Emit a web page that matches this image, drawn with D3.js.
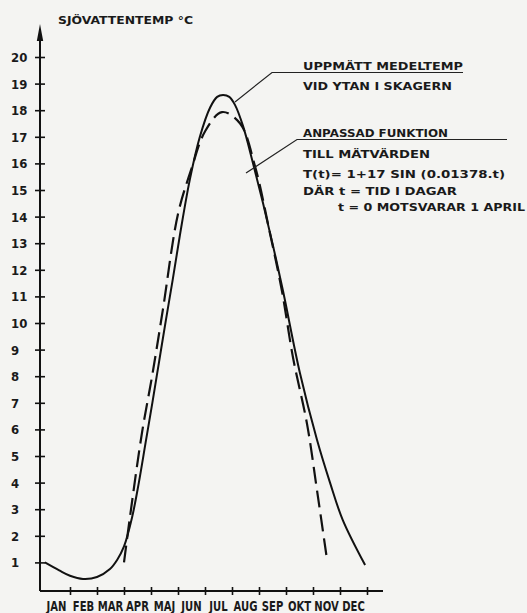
<!DOCTYPE html>
<html>
<head>
<meta charset="utf-8">
<script src="https://cdn.jsdelivr.net/npm/d3@7"></script>
<style>
  body { margin: 0; background: #f4f4f2; }
  svg { display: block; }
  text { font-family: "DejaVu Sans Condensed", "DejaVu Sans", sans-serif; font-weight: bold; fill: #1a1a1a; }
  .note { font-family: "DejaVu Sans", sans-serif; }
</style>
</head>
<body>
<script>
//month names along the x axis
var months = ["JAN", "FEB", "MAR", "APR", "MAJ", "JUN", "JUL", "AUG", "SEP", "OKT", "NOV", "DEC"];
var tempTicks = [1, 2, 3, 4, 5, 6, 7, 8, 9, 10, 11, 12, 13, 14, 15, 16, 17, 18, 19, 20];

//measured mean surface temperature, [month (0 = 1 Jan), degrees C]
var measuredMonth = [0.07, 0.6, 1.0, 1.48, 2.0, 2.48, 2.75, 3.0, 3.3, 3.55, 3.8, 4.05, 4.3, 4.55, 4.8, 5.07, 5.44, 5.81, 6.19, 6.45, 6.67, 6.9, 7.11, 7.41, 7.78, 8.15, 8.52, 8.89, 9.52, 10.15, 10.63, 11.1, 11.93];
var measuredTemp = [1.0, 0.7, 0.5, 0.38, 0.45, 0.75, 1.1, 1.6, 2.7, 4.0, 5.5, 7.0, 8.55, 10.1, 11.6, 13.3, 15.4, 17.0, 18.1, 18.5, 18.57, 18.5, 18.2, 17.4, 16.0, 14.5, 12.9, 11.2, 8.1, 5.6, 4.0, 2.6, 0.9];

//fitted function
var fittedMonth = [3.0, 3.22, 3.67, 4.04, 4.44, 5.0, 5.5, 6.0, 6.63, 7.3, 7.85, 8.4, 8.85, 9.26, 9.78, 10.15, 10.52];
var fittedTemp = [1.0, 2.7, 5.9, 8.0, 10.5, 14.1, 15.8, 17.2, 17.93, 17.5, 15.9, 13.4, 11.2, 8.7, 6.2, 3.7, 1.1];

//annotation lines
var measuredNote = ["UPPMÄTT MEDELTEMP", "VID YTAN I SKAGERN"];
var fittedNote = ["ANPASSAD FUNKTION", "TILL MÄTVÄRDEN", "T(t)= 1+17 SIN (0.01378.t)", "DÄR t = TID I DAGAR", "t = 0  MOTSVARAR 1 APRIL"];

var width = 527, height = 613;

var svg = d3.select("body").append("svg")
    .attr("width", width)
    .attr("height", height);

var x = d3.scaleLinear().domain([0, 12]).range([43, 367]);
var y = d3.scaleLinear().domain([0, 20]).range([589, 57]);

var axisY = 591, axisX = 40;

//y axis with arrow
svg.append("line")
    .attr("x1", axisX).attr("x2", axisX)
    .attr("y1", axisY).attr("y2", 36)
    .attr("stroke", "#111").attr("stroke-width", 2);
svg.append("path")
    .attr("d", "M" + axisX + ",24L" + (axisX - 3.2) + ",41L" + (axisX + 3.2) + ",41Z")
    .attr("fill", "#111");

var yAxis = svg.append("g")
    .attr("transform", "translate(" + axisX + ",0)")
    .call(d3.axisLeft(y).tickValues(tempTicks).tickSize(0).tickFormat(""));
yAxis.select(".domain").remove();
yAxis.selectAll(".tick line")
    .attr("x1", -5).attr("x2", 5)
    .attr("stroke", "#111").attr("stroke-width", 1.6);

svg.selectAll(".ylab")
    .data(tempTicks)
    .enter().append("text")
    .attr("class", "ylab")
    .attr("x", 11)
    .attr("y", function(d){ return y(d) + 5; })
    .style("font-size", "13px")
    .text(function(d){ return d; });

//x axis
svg.append("line")
    .attr("x1", axisX).attr("x2", 383)
    .attr("y1", axisY).attr("y2", axisY)
    .attr("stroke", "#111").attr("stroke-width", 2);

var xAxis = svg.append("g")
    .attr("transform", "translate(0," + axisY + ")")
    .call(d3.axisBottom(x).tickValues(d3.range(1, 13)).tickSize(0).tickFormat(""));
xAxis.select(".domain").remove();
xAxis.selectAll(".tick line")
    .attr("y1", -4).attr("y2", 4)
    .attr("stroke", "#111").attr("stroke-width", 1.6);

//month names squeezed a little, like the hand lettering
svg.selectAll(".xlab")
    .data(months)
    .enter().append("text")
    .attr("class", "xlab")
    .attr("transform", function(d, i){ return "translate(" + x(i + 0.5) + ",611) scale(0.86,1.08)"; })
    .attr("text-anchor", "middle")
    .style("font-size", "13px")
    .text(function(d){ return d; });

//title
svg.append("text")
    .attr("class", "note")
    .attr("x", 58).attr("y", 24)
    .style("font-size", "11px")
    .attr("textLength", 135)
    .attr("lengthAdjust", "spacingAndGlyphs")
    .text("SJÖVATTENTEMP °C");

//curves
var line = d3.line()
    .x(function(d){ return x(d[0]); })
    .y(function(d){ return y(d[1]); })
    .curve(d3.curveCatmullRom.alpha(0.5));

var measured = d3.zip(measuredMonth, measuredTemp);
var fitted = d3.zip(fittedMonth, fittedTemp);

svg.append("path")
    .attr("d", line(measured))
    .attr("fill", "none")
    .attr("stroke", "#111")
    .attr("stroke-width", 2);

svg.append("path")
    .attr("d", line(fitted))
    .attr("fill", "none")
    .attr("stroke", "#111")
    .attr("stroke-width", 2.2)
    .attr("stroke-dasharray", "17,7");

//annotations
var noteWidths1 = [160, 149];
var noteWidths2 = [145, 127, 202, 154, 187];

measuredNote.forEach(function(s, i){
    svg.append("text")
        .attr("class", "note")
        .attr("x", 303).attr("y", 70 + i * 20)
        .style("font-size", "11px")
        .attr("textLength", noteWidths1[i])
        .attr("lengthAdjust", "spacingAndGlyphs")
        .text(s);
});
svg.append("path")
    .attr("d", "M235,102L272,72.5L463,72.5")
    .attr("fill", "none").attr("stroke", "#222").attr("stroke-width", 1.2);

var noteY2 = [137, 158, 178, 195, 211];
fittedNote.forEach(function(s, i){
    svg.append("text")
        .attr("class", "note")
        .attr("x", i == 4 ? 338 : 303).attr("y", noteY2[i])
        .style("font-size", "11px")
        .attr("textLength", noteWidths2[i])
        .attr("lengthAdjust", "spacingAndGlyphs")
        .text(s);
});
svg.append("path")
    .attr("d", "M246,173L297,139.5L507,139.5")
    .attr("fill", "none").attr("stroke", "#222").attr("stroke-width", 1.2);
</script>
</body>
</html>
